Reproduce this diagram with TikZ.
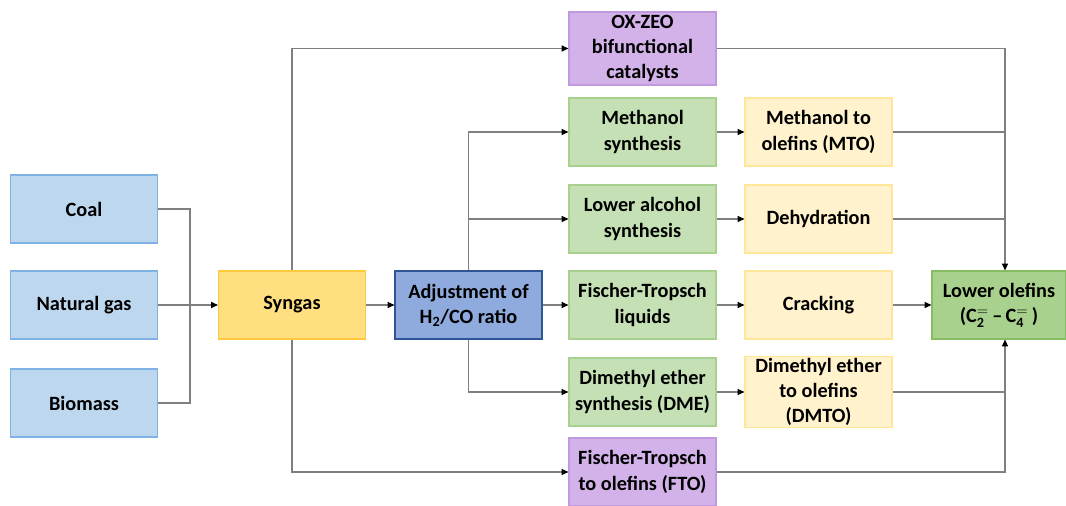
\documentclass[tikz,border=0pt]{standalone}
\usepackage{fontspec}
\setmainfont{Carlito}
\usetikzlibrary{arrows.meta}
\definecolor{bfill}{HTML}{BDD7EE}\definecolor{bdraw}{HTML}{7FB2E5}
\definecolor{sfill}{HTML}{FFDF80}\definecolor{sdraw}{HTML}{FFC83D}
\definecolor{afill}{HTML}{8FAADC}\definecolor{adraw}{HTML}{2F5597}
\definecolor{pfill}{HTML}{D2B2E8}\definecolor{pdraw}{HTML}{C09ADE}
\definecolor{gfill}{HTML}{C5E0B4}\definecolor{gdraw}{HTML}{A9D18E}
\definecolor{yfill}{HTML}{FFF2CC}\definecolor{ydraw}{HTML}{FFE699}
\definecolor{lfill}{HTML}{A9D18E}\definecolor{ldraw}{HTML}{86BC62}
\definecolor{lcol}{HTML}{7F7F7F}
\tikzset{
  box/.style={draw, line width=0.9pt, align=center, inner sep=1pt,
    minimum width=110.25pt, minimum height=51pt,
    font=\fontsize{15.2}{18.9}\selectfont\bfseries},
  bluebox/.style={box, fill=bfill, draw=bdraw},
  synbox/.style={box, fill=sfill, draw=sdraw},
  adjbox/.style={box, fill=afill, draw=adraw},
  purbox/.style={box, fill=pfill, draw=pdraw},
  grnbox/.style={box, fill=gfill, draw=gdraw},
  ylwbox/.style={box, fill=yfill, draw=ydraw},
  lobox/.style={box, fill=lfill, draw=ldraw, minimum width=100.5pt},
  conn/.style={draw=lcol, line width=0.8pt},
  arr/.style={conn, -{Triangle[length=5pt,width=4.5pt,fill=black,color=black]}}
}
\begin{document}
\begin{tikzpicture}[x=0.75pt,y=-0.75pt]
\useasboundingbox (0,0) rectangle (1066,506);
% left column
\node[bluebox] (coal) at (84,209) {Coal};
\node[bluebox] (gas) at (84,305) {Natural gas};
\node[bluebox] (bio) at (84,403) {Biomass};
\node[synbox] (syn) at (292,305) {Syngas};
\node[adjbox] (adj) at (468.5,305) {Adjustment of\\H\textsubscript{2}/CO ratio};
% middle column
\node[purbox, minimum height=54.75pt] (ox) at (642.5,48.5) {OX-ZEO\\bifunctional\\catalysts};
\node[grnbox] (ms) at (642.5,132) {Methanol\\synthesis};
\node[grnbox] (la) at (642.5,219) {Lower alcohol\\synthesis};
\node[grnbox] (ftl) at (642.5,305) {Fischer-Tropsch\\liquids};
\node[grnbox] (dme) at (642.5,392) {Dimethyl ether\\synthesis (DME)};
\node[purbox] (fto) at (642.5,472) {Fischer-Tropsch\\to olefins (FTO)};
% right column
\node[ylwbox] (mto) at (818.5,132) {Methanol to\\olefins (MTO)};
\node[ylwbox] (deh) at (818.5,219) {Dehydration};
\node[ylwbox] (crk) at (818.5,305) {Cracking};
\node[ylwbox] (dmto) at (818.5,392) {Dimethyl ether\\to olefins\\(DMTO)};
\node[lobox] (lo) at (999,305) {Lower olefins\\(C$_{\mathbf{2}}^{\mathbf{=}}$\,--\,C$_{\mathbf{4}}^{\mathbf{=}}$\,)};
% junctions
\coordinate (jl) at (190,305);
\coordinate (rc) at (1005,0);
% connectors
\draw[conn] (coal.east) -| (jl);
\draw[conn] (bio.east) -| (jl);
\draw[arr] (gas) -- (syn);
\draw[arr] (syn.north) |- (ox.west);
\draw[arr] (syn.south) |- (fto.west);
\draw[arr] (syn) -- (adj);
\draw[arr] (adj.north) |- (ms.west);
\draw[arr] (adj.north |- la.west) -- (la.west);
\draw[arr] (adj) -- (ftl);
\draw[arr] (adj.south) |- (dme.west);
\draw[arr] (ms) -- (mto);
\draw[arr] (la) -- (deh);
\draw[arr] (ftl) -- (crk);
\draw[arr] (dme) -- (dmto);
\draw[arr] (crk) -- (lo);
\draw[conn] (ox.east) -| (rc |- mto.east);
\draw[arr] (mto.east) -| (rc |- lo.north);
\draw[conn] (deh.east) -- (rc |- deh.east);
\draw[conn] (fto.east) -| (rc |- dmto.east);
\draw[arr] (dmto.east) -| (rc |- lo.south);
\end{tikzpicture}
\end{document}
